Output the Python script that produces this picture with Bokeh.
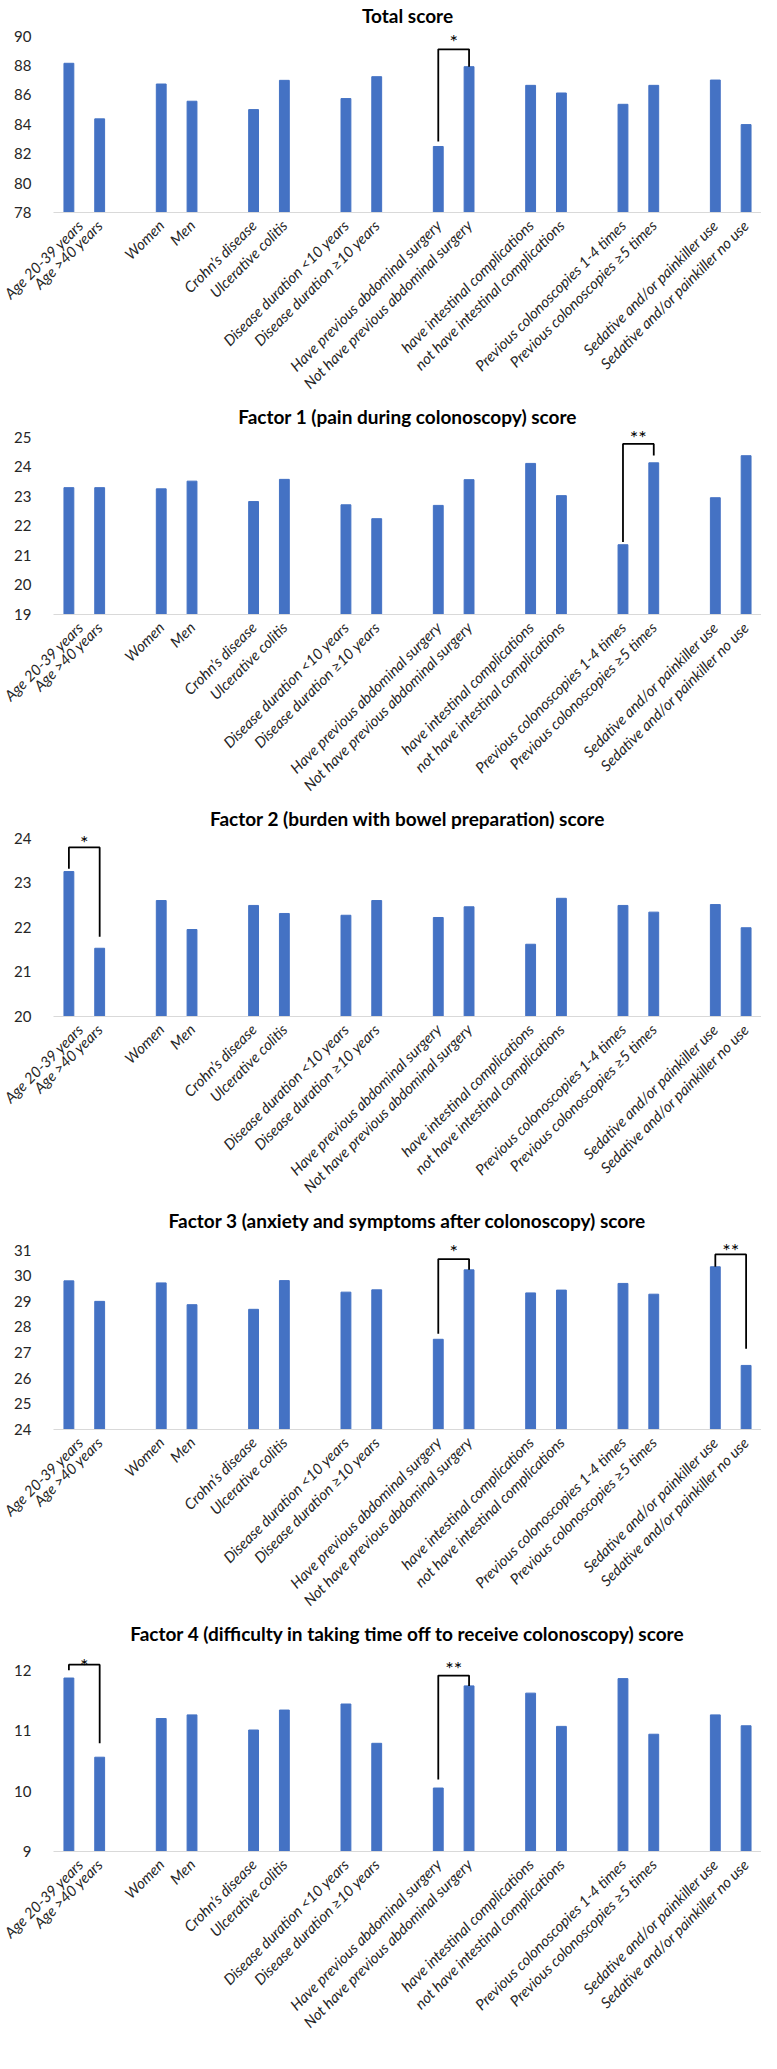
import math
from bokeh.plotting import figure
from bokeh.models import Range1d, FixedTicker, ColumnDataSource
from bokeh.layouts import column
from bokeh.embed import file_html
from bokeh.resources import INLINE
from bokeh.core.properties import value

categories = [
    "Age 20-39 years", "Age >40 years",
    "Women", "Men",
    "Crohn\u2019s disease", "Ulcerative colitis",
    "Disease duration <10 years", "Disease duration \u226510 years",
    "Have previous abdominal surgery", "Not have previous abdominal surgery",
    "have intestinal complications", "not have intestinal complications",
    "Previous colonoscopies 1-4 times", "Previous colonoscopies \u22655 times",
    "Sedative and/or painkiller use", "Sedative and/or painkiller no use",
]

titles = [
    "Total score",
    "Factor 1 (pain during colonoscopy) score",
    "Factor 2 (burden with bowel preparation) score",
    "Factor 3 (anxiety and symptoms after colonoscopy) score",
    "Factor 4 (difficulty in taking time off to receive colonoscopy) score",
]

total_score = [88.15, 84.37, 86.74, 85.57, 85.00, 86.99, 85.75, 87.24,
               82.49, 87.92, 86.65, 86.13, 85.36, 86.65, 87.01, 83.98]
factor1 = [23.29, 23.29, 23.25, 23.51, 22.82, 23.57, 22.71, 22.24,
           22.69, 23.56, 24.11, 23.02, 21.36, 24.13, 22.95, 24.37]
factor2 = [23.25, 21.53, 22.60, 21.95, 22.49, 22.31, 22.27, 22.60,
           22.22, 22.46, 21.62, 22.65, 22.49, 22.34, 22.51, 21.99]
factor3 = [29.80, 29.00, 29.72, 28.87, 28.69, 29.81, 29.36, 29.45,
           27.52, 30.23, 29.33, 29.44, 29.70, 29.28, 30.35, 26.50]
factor4 = [11.87, 10.56, 11.20, 11.26, 11.01, 11.34, 11.44, 10.79,
           10.05, 11.74, 11.62, 11.07, 11.86, 10.94, 11.26, 11.08]

axis_min = [78, 19, 20, 24, 9]
axis_max = [90, 25, 24, 31, 12]
axis_step = [2, 1, 1, 1, 1]

# significance brackets: panel, left bar index, right bar index, bracket top,
# left leg end, right leg end, star height, label
sig_panel = [0, 1, 2, 3, 3, 4, 4]
sig_left = [8, 12, 0, 8, 14, 0, 8]
sig_right = [9, 13, 1, 9, 15, 1, 9]
sig_top = [89.10, 24.77, 23.79, 30.65, 30.83, 12.09, 11.91]
sig_left_end = [82.83, 21.45, 23.31, 27.74, 30.35, 12.00, 10.19]
sig_right_end = [87.92, 24.38, 21.79, 30.23, 27.15, 10.79, 11.74]
sig_star_y = [89.84, 25.11, 23.98, 31.07, 31.13, 12.13, 12.09]
sig_label = ["*", "**", "*", "*", "**", "*", "**"]

series = [total_score, factor1, factor2, factor3, factor4]

# layout tuning (pixels)
headroom_px = [8.6, 8.6, 7.6, 17.6, 24.6]
px_per_unit = [14.7, 29.6, 44.6, 25.6, 60.3]
border_bottom = [16, 12, 29, 27, 0]

BAR_COLOR = "#4472C4"
FONT = "Lato"

def slot(i):
    return 3 * (i // 2) + (i % 2)

xs = [slot(i) for i in range(len(categories))]
n_slots = xs[-1] + 1

figs = []
for k in range(5):
    vals = series[k]
    top_end = axis_max[k] + headroom_px[k] / px_per_unit[k]
    fh = int(round((top_end - axis_min[k]) * px_per_unit[k]))
    p = figure(
        frame_width=708, frame_height=fh,
        x_range=Range1d(-0.5, n_slots - 0.5),
        y_range=Range1d(axis_min[k], top_end),
        output_backend="svg", toolbar_location=None,
        min_border_left=53, min_border_right=0,
        min_border_top=0, min_border_bottom=border_bottom[k],
    )
    p.title.text = titles[k]
    p.title.align = "center"
    p.title.text_font = FONT
    p.title.text_font_style = "bold"
    p.title.text_font_size = "19px"
    p.title.text_color = "#000000"
    p.title.standoff = 2
    p.title.offset = -34

    src = ColumnDataSource(dict(x=xs, top=vals))
    p.vbar(x="x", top="top", bottom=axis_min[k], width=0.32, source=src,
           fill_color=BAR_COLOR, line_color=BAR_COLOR)

    # brackets
    for j in range(len(sig_panel)):
        if sig_panel[j] != k:
            continue
        xl = xs[sig_left[j]]
        xr = xs[sig_right[j]]
        p.line([xl, xl, xr, xr],
               [sig_left_end[j], sig_top[j], sig_top[j], sig_right_end[j]],
               line_color="black", line_width=1.8)
        p.text(x=[(xl + xr) / 2], y=[sig_star_y[j]], text=[sig_label[j]],
               text_align="center", text_baseline="middle", y_offset=3,
               text_font=value(FONT), text_font_size="20px", text_color="black")

    ticks = list(range(axis_min[k], axis_max[k] + 1, axis_step[k]))
    p.yaxis.ticker = FixedTicker(ticks=ticks)
    p.yaxis.axis_line_color = None
    p.yaxis.major_tick_line_color = None
    p.yaxis.minor_tick_line_color = None
    p.yaxis.major_label_standoff = 16
    p.yaxis.major_label_text_font = FONT
    p.yaxis.major_label_text_font_size = "15px"
    p.yaxis.major_label_text_color = "#262626"

    p.xaxis.ticker = FixedTicker(ticks=xs)
    p.xaxis.major_label_overrides = {x: c for x, c in zip(xs, categories)}
    p.xaxis.major_label_orientation = math.pi / 4
    p.xaxis.axis_line_color = "#D9D9D9"
    p.xaxis.axis_line_width = 1
    p.xaxis.major_tick_line_color = None
    p.xaxis.minor_tick_line_color = None
    p.xaxis.major_label_standoff = 4
    p.xaxis.major_label_text_font = FONT
    p.xaxis.major_label_text_font_style = "italic"
    p.xaxis.major_label_text_font_size = "15px"
    p.xaxis.major_label_text_color = "#262626"

    p.xgrid.visible = False
    p.ygrid.visible = False
    p.outline_line_color = None
    p.background_fill_color = "white"
    p.border_fill_color = "white"
    figs.append(p)

layout = column(*figs, spacing=0)
open("out.html", "w").write(file_html(layout, INLINE))
